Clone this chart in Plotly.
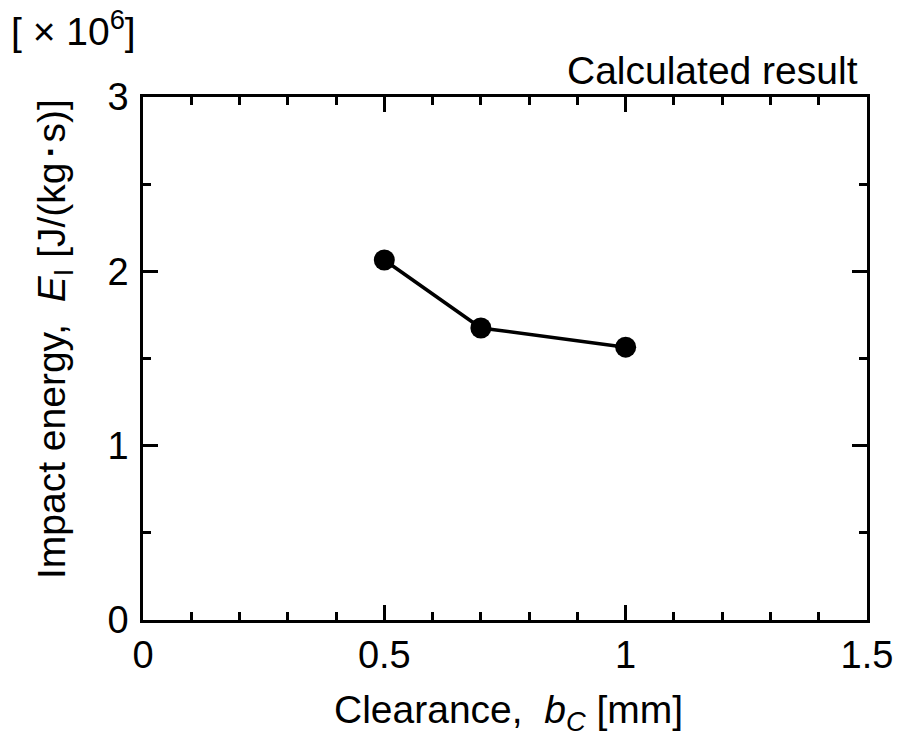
import plotly.graph_objects as go

clearance = [0.5, 0.7, 1.0]
impact_energy = [2.065, 1.675, 1.565]  # x10^6 J/(kg·s)

x_ticks = [0, 0.5, 1, 1.5]
x_tick_text = ["0", "0.5", "1", "1.5"]
y_ticks = [0, 1, 2, 3]

FONT = "Liberation Sans, Arial, sans-serif"
TICK_SIZE = 38
TEXT_SIZE = 39

fig = go.Figure()
fig.add_trace(go.Scatter(
    x=clearance, y=impact_energy, mode="lines+markers",
    line=dict(color="black", width=3.5),
    marker=dict(color="black", size=21),
    showlegend=False,
))

axis_common = dict(
    showgrid=False, zeroline=False, showline=True, linecolor="black", linewidth=2.5,
    mirror="ticks", ticks="inside", ticklen=15, tickwidth=2.5, tickcolor="black",
    tickfont=dict(family=FONT, size=TICK_SIZE, color="black"),
)

fig.update_xaxes(range=[0, 1.5], tickvals=x_ticks, ticktext=x_tick_text,
                 minor=dict(dtick=0.1, ticks="inside", ticklen=8, tickwidth=2.5, tickcolor="black"),
                 **axis_common)
fig.update_yaxes(range=[0, 3], tickvals=y_ticks,
                 minor=dict(dtick=0.5, ticks="inside", ticklen=8, tickwidth=2.5, tickcolor="black"),
                 ticklabelstandoff=4,
                 **axis_common)

fig.update_layout(
    width=905, height=738,
    margin=dict(l=143, r=31, t=97, b=118),
    plot_bgcolor="white", paper_bgcolor="white",
    font=dict(family=FONT, size=TEXT_SIZE, color="black"),
    annotations=[
        dict(text="[ × 10<sup>6</sup>]", xref="paper", yref="paper", x=-143/731, y=1 + 97/523,
             xanchor="left", yanchor="top", showarrow=False, xshift=8, yshift=-2,
             font=dict(family=FONT, size=TEXT_SIZE)),
        dict(text="Calculated result", xref="paper", yref="paper", x=1, y=1,
             xanchor="right", yanchor="bottom", showarrow=False, xshift=-7, yshift=3,
             font=dict(family=FONT, size=TEXT_SIZE)),
        dict(text="Clearance,  <i>b<sub>C</sub></i> [mm]", xref="paper", yref="paper", x=0.5, y=0,
             xanchor="center", yanchor="top", showarrow=False, yshift=-66, xshift=3,
             font=dict(family=FONT, size=TEXT_SIZE)),
        dict(text="Impact energy,  <i>E</i><sub>I</sub> [J/(kg･s)]", xref="paper", yref="paper",
             x=0, y=0.5, xanchor="right", yanchor="middle", textangle=-90, showarrow=False,
             xshift=-62, yshift=19, font=dict(family=FONT, size=TEXT_SIZE)),
    ],
)

fig.write_html("out.html")
